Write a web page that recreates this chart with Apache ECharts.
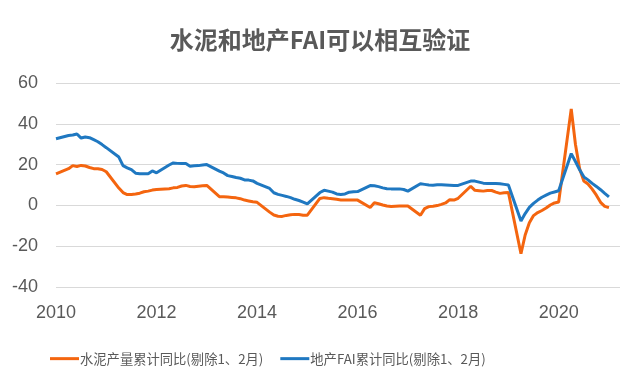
<!DOCTYPE html>
<html>
<head>
<meta charset="utf-8">
<script src="https://cdn.jsdelivr.net/npm/echarts@6/dist/echarts.min.js"></script>
<style>html,body{margin:0;padding:0;background:#fff}#c{width:640px;height:384px}</style>
</head>
<body>
<div id="c"></div>
<script>
// Month-end observations (Jan/Feb excluded); first point is Dec 2009
const years = [2010, 2011, 2012, 2013, 2014, 2015, 2016, 2017, 2018, 2019, 2020];
const monthsInYear = [3, 4, 5, 6, 7, 8, 9, 10, 11, 12];
const xTickLabels = ['2010', '2012', '2014', '2016', '2018', '2020'];
const yTickLabels = ['-40', '-20', '0', '20', '40', '60'];
const seriesNames = ['水泥产量累计同比(剔除1、2月)', '地产FAI累计同比(剔除1、2月)'];

const cementYoY = [
  15.5,
  18.0, 19.5, 19.1, 19.6, 19.3, 18.6, 18.0, 18.0, 17.6, 16.5,
  8.5, 6.3, 5.3, 5.4, 5.6, 6.0, 6.7, 7.0, 7.5, 7.8,
  8.2, 8.6, 8.8, 9.5, 9.8, 9.3, 9.1, 9.4, 9.6, 9.8,
  4.3, 4.2, 4.1, 3.9, 3.7, 3.3, 2.6, 2.2, 1.8, 1.5,
  -3.3, -4.7, -5.3, -5.4, -4.9, -4.6, -4.4, -4.5, -4.8, -4.8,
  3.4, 3.8, 3.5, 3.3, 3.0, 2.7, 2.6, 2.6, 2.6, 2.6,
  -1.0, 1.3, 0.8, 0.2, -0.3, -0.5, -0.4, -0.3, -0.3, -0.3,
  -4.8, -1.6, -0.6, -0.4, -0.1, 0.5, 1.2, 2.8, 2.6, 3.5,
  9.4, 7.4, 7.2, 7.0, 7.3, 7.3, 6.5, 5.9, 6.2, 6.3,
  -23.7, -14.5, -8.5, -5.0, -3.5, -2.5, -1.3, 0.2, 1.2, 1.7,
  47.3, 30.0, 18.0, 12.0, 10.5, 8.0, 5.0, 1.5, -0.5, -1.1
];
const faiYoY = [
  32.7,
  34.3, 34.5, 35.0, 33.0, 33.5, 33.2, 32.2, 31.2, 29.8, 28.3,
  23.7, 19.5, 18.4, 17.5, 15.8, 15.5, 15.5, 15.5, 16.9, 16.0,
  19.8, 20.8, 20.6, 20.5, 20.5, 19.2, 19.4, 19.5, 19.8, 20.0,
  16.8, 15.9, 14.6, 14.2, 13.7, 13.3, 12.5, 12.4, 12.0, 10.8,
  8.3, 6.2, 5.4, 4.9, 4.4, 3.8, 3.0, 2.4, 1.6, 0.7,
  6.3, 7.4, 7.0, 6.5, 5.6, 5.4, 5.6, 6.5, 6.7, 6.8,
  9.7, 9.6, 9.2, 8.6, 8.2, 8.1, 8.1, 8.1, 7.8, 7.0,
  10.6, 10.3, 10.0, 9.9, 10.1, 10.1, 10.0, 9.9, 9.8, 9.8,
  11.9, 11.9, 11.4, 10.9, 10.7, 10.7, 10.7, 10.6, 10.3, 10.0,
  -7.6, -4.0, -1.0, 1.0, 2.6, 4.0, 5.0, 6.0, 6.6, 7.2,
  25.4, 21.5, 17.5, 14.0, 12.5, 10.8, 9.3, 7.7, 5.9, 4.2
];

// month-end positions in fractional years
const times = [2009 + 12 / 12];
years.forEach(y => monthsInYear.forEach(m => times.push(y + m / 12)));

const pairs = vals => vals.map((v, i) => [times[i], v]);

const chart = echarts.init(document.getElementById('c'), null, {renderer: 'canvas'});
const labelColor = '#595959';
chart.setOption({
  animation: false,
  title: {
    text: '水泥和地产FAI可以相互验证',
    left: 'center', top: 23,
    textStyle: {fontFamily: 'Noto Sans CJK SC', fontSize: 24, fontWeight: 'bold', color: labelColor}
  },
  legend: {
    left: 45, top: 347,
    icon: 'rect', itemWidth: 29, itemHeight: 3, itemGap: 17,
    textStyle: {fontFamily: 'Noto Sans CJK SC', fontSize: 13.3, color: labelColor, padding: [0, 0, 0, -4]},
    data: seriesNames
  },
  grid: {left: 56, right: 20, top: 83, bottom: 97, containLabel: false},
  xAxis: {
    type: 'value', min: 2010, max: 2021.22, interval: 2,
    axisLine: {show: false}, axisTick: {show: false}, splitLine: {show: false},
    axisLabel: {
      showMaxLabel: false, margin: 17,
      fontFamily: 'Liberation Sans', fontSize: 18, color: labelColor,
      formatter: v => xTickLabels.includes(String(v)) ? String(v) : ''
    }
  },
  yAxis: {
    type: 'value', min: -40, max: 60, interval: 20,
    axisLine: {show: false}, axisTick: {show: false},
    splitLine: {lineStyle: {color: '#D9D9D9', width: 1}},
    axisLabel: {
      margin: 18, fontFamily: 'Liberation Sans', fontSize: 18, color: labelColor,
      formatter: v => yTickLabels.includes(String(v)) ? String(v) : ''
    }
  },
  series: [
    {name: seriesNames[0], type: 'line', symbol: 'none', data: pairs(cementYoY),
     lineStyle: {color: '#F4650F', width: 3}, itemStyle: {color: '#F4650F'}},
    {name: seriesNames[1], type: 'line', symbol: 'none', data: pairs(faiYoY),
     lineStyle: {color: '#1F78C1', width: 3}, itemStyle: {color: '#1F78C1'}}
  ]
});
</script>
</body>
</html>
